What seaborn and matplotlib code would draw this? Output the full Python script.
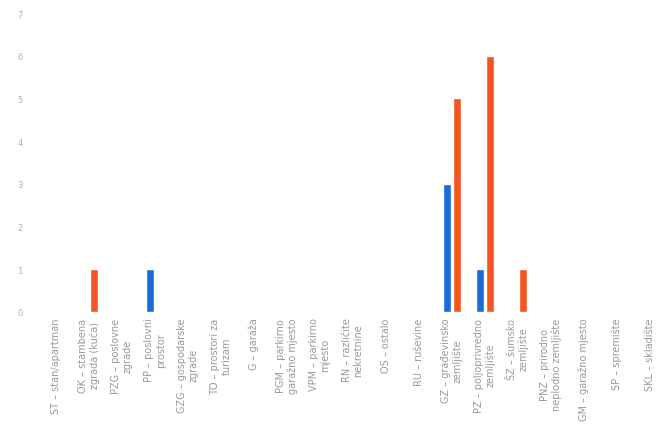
import pandas as pd
import seaborn as sns
import matplotlib.pyplot as plt

# categories (x axis) and the two series
categories = [
    'ST – stan/apartman',
    'OK – stambena\nzgrada (kuća)',
    'PZG – poslovne\nzgrade',
    'PP – poslovni\nprostor',
    'GZG – gospodarske\nzgrade',
    'TO – prostori za\nturizam',
    'G – garaža',
    'PGM – parkirno\ngaražno mjesto',
    'VPM – parkirno\nmjesto',
    'RN – različite\nnekretnine',
    'OS – ostalo',
    'RU – ruševine',
    'GZ – građevinsko\nzemljište',
    'PZ – poljoprivredno\nzemljište',
    'ŠZ – šumsko\nzemljište',
    'PNZ – prirodno\nneplodno zemljište',
    'GM – garažno mjesto',
    'SP – spremište',
    'SKL – skladište',
]
series_a = [0, 0, 0, 1, 0, 0, 0, 0, 0, 0, 0, 0, 3, 1, 0, 0, 0, 0, 0]
series_b = [0, 1, 0, 0, 0, 0, 0, 0, 0, 0, 0, 0, 5, 6, 1, 0, 0, 0, 0]
series_names = ['A', 'B']
y_ticks = [0, 1, 2, 3, 4, 5, 6, 7]

df = pd.DataFrame({
    'kategorija': categories * 2,
    'broj': series_a + series_b,
    'serija': [series_names[0]] * len(categories) + [series_names[1]] * len(categories),
})

sns.set_style('white')
fig = plt.figure(figsize=(6.57, 4.27), dpi=100)
ax = fig.add_axes([0.060, 0.267, 0.954, 0.700])

sns.barplot(data=df, x='kategorija', y='broj', hue='serija', order=categories,
            palette=['#1a6dd8', '#f4541f'], saturation=1, width=0.6, gap=0.2,
            legend=False, ax=ax)

ax.set_xlim(-0.5, 18.5)
ax.set_ylim(0, 7)
ax.set_yticks(y_ticks)
ax.set_xlabel('')
ax.set_ylabel('')
sns.despine(ax=ax, left=True, bottom=True)
ax.tick_params(axis='y', length=0, labelsize=6, labelcolor='#b0b0b0', pad=12)
ax.tick_params(axis='x', length=0, labelsize=7, labelcolor='#999999', pad=4)
for lbl in ax.get_xticklabels():
    lbl.set_rotation(90)
    lbl.set_ha('center')
    lbl.set_va('top')
    lbl.set_multialignment('center')

fig.savefig('out.png', dpi=100)
